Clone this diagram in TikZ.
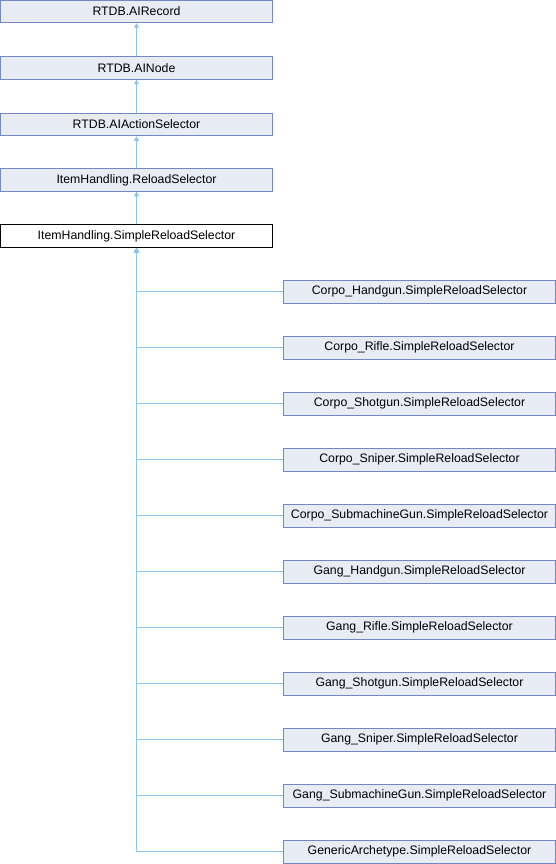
\documentclass[tikz,border=0pt]{standalone}
\usepackage{fontspec}
\setmainfont{Liberation Sans}
\usetikzlibrary{arrows.meta}
\definecolor{boxfill}{HTML}{E8ECF5}
\definecolor{boxline}{HTML}{7487C4}
\definecolor{edgeline}{HTML}{8CC4EC}
\begin{document}
\begin{tikzpicture}[x=1pt,y=-1pt,
  cls/.style={draw=boxline,fill=boxfill,line width=1pt,minimum width=272pt,minimum height=22.5pt,
    inner sep=0pt,font=\fontsize{12.3}{14}\selectfont},
  cur/.style={cls,draw=black,fill=white},
  edge/.style={draw=edgeline,line width=1pt,-{Triangle[length=4.5pt,width=5pt]}}]
\useasboundingbox (0,0) rectangle (556,864);
% base class chain
\node[cls] (rec)  at (136.5,11.5)  {RTDB.AIRecord};
\node[cls] (nod)  at (136.5,68)    {RTDB.AINode};
\node[cls] (act)  at (136.5,124.5) {RTDB.AIActionSelector};
\node[cls] (rel)  at (136.5,180)   {ItemHandling.ReloadSelector};
\node[cur] (sel)  at (136.5,236.2) {ItemHandling.SimpleReloadSelector};
\draw[edge] (nod.north) -- (rec.south);
\draw[edge] (act.north) -- (nod.south);
\draw[edge] (rel.north) -- (act.south);
\draw[edge] (sel.north) -- (rel.south);
% derived classes
\foreach \n/\t [count=\k from 0] in {
  c0/Corpo\_Handgun.SimpleReloadSelector,
  c1/Corpo\_Rifle.SimpleReloadSelector,
  c2/Corpo\_Shotgun.SimpleReloadSelector,
  c3/Corpo\_Sniper.SimpleReloadSelector,
  c4/Corpo\_SubmachineGun.SimpleReloadSelector,
  c5/Gang\_Handgun.SimpleReloadSelector,
  c6/Gang\_Rifle.SimpleReloadSelector,
  c7/Gang\_Shotgun.SimpleReloadSelector,
  c8/Gang\_Sniper.SimpleReloadSelector,
  c9/Gang\_SubmachineGun.SimpleReloadSelector,
  c10/GenericArchetype.SimpleReloadSelector} {
  \node[cls] (\n) at (419.5,{291.8+56*\k}) {\t};
  \draw[edge] (\n.west) -| (sel.south);
}
\end{tikzpicture}
\end{document}
